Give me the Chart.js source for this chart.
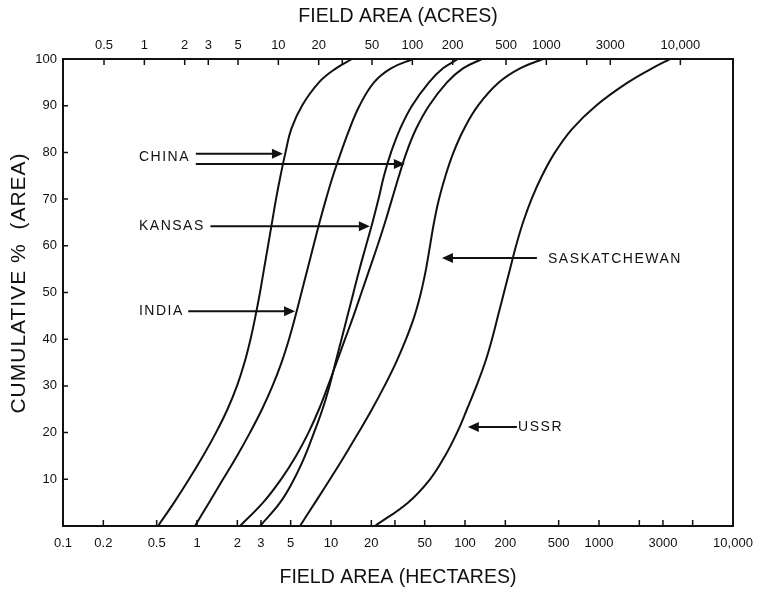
<!DOCTYPE html>
<html>
<head>
<meta charset="utf-8">
<script src="https://cdn.jsdelivr.net/npm/chart.js@4.4.0/dist/chart.umd.min.js"></script>
<style>
	html, body { margin: 0; padding: 0; background: #fff; }
	canvas { display: block; }
</style>
</head>
<body>
<canvas id="fieldChart" width="758" height="589"></canvas>
<script>
// cumulative % of area vs field area (hectares)
const pctSteps = [0, 5, 10, 15, 20, 25, 30, 35, 40, 45, 50, 55, 60, 65, 70, 75, 80, 85, 90, 95, 98, 100];

const chinaHa = [0.512, 0.674, 0.871, 1.109, 1.386, 1.689, 1.988, 2.262, 2.508, 2.733, 2.952, 3.162, 3.388, 3.629, 3.887, 4.2, 4.576, 5.05, 6.075, 8.136, 10.9, 14.34];
const indiaHa = [0.966, 1.229, 1.563, 1.988, 2.486, 3.056, 3.66, 4.272, 4.86, 5.434, 6.024, 6.676, 7.401, 8.208, 9.178, 10.35, 11.87, 13.74, 16.32, 20.94, 28.04, 40.92];
const china2Ha = [2.094, 3.108, 4.236, 5.481, 6.793, 8.136, 9.497, 10.99, 12.72, 14.72, 16.89, 19.38, 22.23, 25.29, 28.52, 32.17, 36.6, 43.09, 53.86, 73.39, 96.63, 133.9];
const kansasHa = [2.952, 4.164, 5.294, 6.397, 7.465, 8.641, 9.746, 10.8, 11.98, 13.28, 14.72, 16.32, 18.25, 20.4, 22.62, 24.86, 28.04, 32.72, 40.23, 53.86, 68.5, 88.65];
const saskHa = [5.87, 7.6, 9.83, 12.61, 16.04, 20.23, 25.08, 30.56, 36.29, 42.0, 46.94, 51.17, 54.8, 58.7, 63.97, 71.54, 82.08, 98.29, 125, 179.4, 257.3, 382];
const ussrHa = [21.3, 37.5, 54.8, 70.9, 87.2, 103.5, 121.8, 141.1, 159.0, 176.3, 195.4, 216.7, 240.3, 270.9, 313.6, 375.5, 469.4, 628.8, 949.7, 1646, 2486, 3388];

// axis ticks
const hectareTicks = [0.1, 0.2, 0.5, 1, 2, 3, 5, 10, 20, 30, 50, 100, 200, 500, 1000, 2000, 3000, 5000, 10000];
const hectareLabels = ["0.1", "0.2", "0.5", "1", "2", "3", "5", "10", "20", "", "50", "100", "200", "500", "1000", "", "3000", "", "10,000"];
const acreTicks = [0.5, 1, 2, 3, 5, 10, 20, 30, 50, 100, 200, 500, 1000, 2000, 3000, 10000];
const acreLabels = ["0.5", "1", "2", "3", "5", "10", "20", "", "50", "100", "200", "500", "1000", "", "3000", "10,000"];
const acresPerHectare = 2.471;

// text notes and arrows
const noteText = ["CHINA", "KANSAS", "INDIA", "SASKATCHEWAN", "USSR"];
const noteHa = [0.369, 0.369, 0.369, 416, 249];
const notePct = [79, 64.2, 46, 57.2, 21.2];

const arrowFromHa = [0.98, 0.98, 1.26, 0.86, 344, 244];
const arrowToHa = [4.38, 35.6, 19.5, 5.39, 67.3, 105];
const arrowPct = [79.7, 77.5, 64.2, 46, 57.4, 21.2];

const ink = "#111";
const fontFamily = "'Liberation Sans', Arial, sans-serif";

function curve(label, xs) {
	return {
		label: label,
		data: xs.map((v, i) => ({ x: v, y: pctSteps[i] })),
		borderColor: ink,
		borderWidth: 2,
		pointRadius: 0,
		fill: false,
		tension: 0.4
	};
}

// frame, inward tick marks, titles, labels with arrows
const notesPlugin = {
	id: "notes",
	afterDatasetsDraw(chart) {
		const ctx = chart.ctx;
		const area = chart.chartArea;
		const x = chart.scales.x;
		const y = chart.scales.y;
		const top = chart.scales.acres;
		const midX = (area.left + area.right) / 2;
		ctx.save();
		ctx.strokeStyle = ink;
		ctx.fillStyle = ink;
		ctx.lineWidth = 2;
		ctx.strokeRect(area.left, area.top, area.right - area.left, area.bottom - area.top);

		ctx.lineWidth = 1.5;
		ctx.beginPath();
		for (let v of hectareTicks) {
			const px = x.getPixelForValue(v);
			ctx.moveTo(px, area.bottom);
			ctx.lineTo(px, area.bottom - 6);
		}
		for (let v of acreTicks) {
			const px = top.getPixelForValue(v);
			ctx.moveTo(px, area.top);
			ctx.lineTo(px, area.top + 6);
		}
		for (let v = 10; v < 100; v += 10) {
			const py = y.getPixelForValue(v);
			ctx.moveTo(area.left, py);
			ctx.lineTo(area.left + 5, py);
		}
		ctx.stroke();

		// arrows
		ctx.lineWidth = 2;
		for (let i = 0; i < arrowPct.length; i++) {
			const x1 = x.getPixelForValue(arrowFromHa[i]);
			const x2 = x.getPixelForValue(arrowToHa[i]);
			const py = y.getPixelForValue(arrowPct[i]);
			const dir = x2 > x1 ? 1 : -1;
			ctx.beginPath();
			ctx.moveTo(x1, py);
			ctx.lineTo(x2 - dir * 8, py);
			ctx.stroke();
			ctx.beginPath();
			ctx.moveTo(x2, py);
			ctx.lineTo(x2 - dir * 11, py - 5);
			ctx.lineTo(x2 - dir * 11, py + 5);
			ctx.closePath();
			ctx.fill();
		}

		// curve labels
		ctx.font = "14px " + fontFamily;
		ctx.letterSpacing = "1.5px";
		ctx.textBaseline = "middle";
		ctx.textAlign = "left";
		for (let i = 0; i < noteText.length; i++) {
			ctx.fillText(noteText[i], x.getPixelForValue(noteHa[i]), y.getPixelForValue(notePct[i]));
		}

		// axis titles
		ctx.textAlign = "center";
		ctx.font = "19.5px " + fontFamily;
		ctx.letterSpacing = "0px";
		ctx.fillText("FIELD AREA (ACRES)", midX, 17);
		ctx.fillText("FIELD AREA (HECTARES)", midX, 578);
		ctx.translate(19, 283);
		ctx.rotate(-Math.PI / 2);
		ctx.font = "21px " + fontFamily;
		ctx.letterSpacing = "1px";
		ctx.fillText("CUMULATIVE %  (AREA)", 0, 0);
		ctx.restore();
	}
};

const tickFont = { family: fontFamily, size: 13 };

new Chart(document.getElementById("fieldChart"), {
	type: "line",
	data: {
		datasets: [
			curve("China", chinaHa),
			curve("India", indiaHa),
			curve("China", china2Ha),
			curve("Kansas", kansasHa),
			curve("Saskatchewan", saskHa),
			curve("USSR", ussrHa)
		]
	},
	options: {
		responsive: false,
		animation: false,
		layout: { padding: { left: 0, right: 25, top: 0, bottom: 0 } },
		plugins: {
			legend: { display: false },
			tooltip: { enabled: false }
		},
		scales: {
			x: {
				type: "logarithmic",
				position: "bottom",
				min: 0.1,
				max: 10000,
				grid: { display: false, drawTicks: false },
				border: { display: false },
				afterBuildTicks: (s) => { s.ticks = hectareTicks.map(v => ({ value: v })); },
				afterFit: (s) => { s.height = 63; s.paddingLeft = 0; s.paddingRight = 0; },
				ticks: {
					autoSkip: false,
					maxRotation: 0,
					padding: 10,
					color: ink,
					font: tickFont,
					callback: (v, i) => hectareLabels[i]
				}
			},
			acres: {
				type: "logarithmic",
				position: "top",
				min: 0.1 * acresPerHectare,
				max: 10000 * acresPerHectare,
				grid: { display: false, drawTicks: false },
				border: { display: false },
				afterBuildTicks: (s) => { s.ticks = acreTicks.map(v => ({ value: v })); },
				afterFit: (s) => { s.height = 59; s.paddingLeft = 0; s.paddingRight = 0; },
				ticks: {
					autoSkip: false,
					maxRotation: 0,
					padding: 6,
					color: ink,
					font: tickFont,
					callback: (v, i) => acreLabels[i]
				}
			},
			y: {
				type: "linear",
				min: 0,
				max: 100,
				grid: { display: false, drawTicks: false },
				border: { display: false },
				afterFit: (s) => { s.width = 63; },
				ticks: {
					stepSize: 10,
					padding: 6,
					color: ink,
					font: tickFont,
					callback: (v) => v === 0 ? "" : v
				}
			}
		}
	},
	plugins: [notesPlugin]
});
</script>
</body>
</html>
